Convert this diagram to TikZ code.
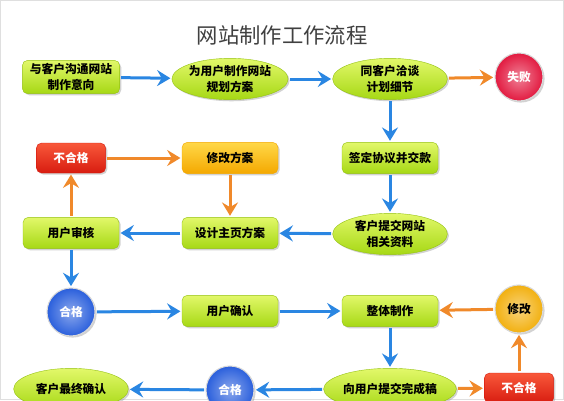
\documentclass[tikz,border=0pt]{standalone}
\usepackage{fontspec}
\setmainfont{Noto Sans CJK SC}
\usetikzlibrary{shapes.geometric,arrows.meta,shadows}
\definecolor{limetop}{HTML}{E2F86A}
\definecolor{limebot}{HTML}{A6D814}
\definecolor{redtop}{HTML}{F8583A}
\definecolor{redbot}{HTML}{D81C10}
\definecolor{ambertop}{HTML}{FFD848}
\definecolor{amberbot}{HTML}{F4A800}
\definecolor{flowblue}{HTML}{2A86E2}
\definecolor{floworange}{HTML}{F0892A}
\definecolor{ballblue}{HTML}{2A5FDC}
\definecolor{ballred}{HTML}{E21A40}
\definecolor{ballamber}{HTML}{F2B010}

\begin{document}
\begin{tikzpicture}[x=0.75pt,y=-0.75pt,
    txt/.style={font=\bfseries\fontsize{8.8pt}{12pt}\selectfont,align=center,inner sep=1pt},
    shade/.style={drop shadow={shadow xshift=1.2pt,shadow yshift=-1.2pt,opacity=0.35}},
    box/.style={txt,shade,rectangle,rounded corners=4pt,minimum width=72pt,minimum height=23.5pt,
        top color=limetop,bottom color=limebot,draw=limebot!90!black,line width=0.3pt},
    oval/.style={txt,shade,ellipse,minimum width=86pt,minimum height=31pt,inner sep=0pt,
        top color=limetop,bottom color=limebot,draw=limebot!90!black,line width=0.3pt},
    redbox/.style={box,top color=redtop,bottom color=redbot,draw=redbot,text=white,minimum width=52pt,minimum height=22.5pt},
    amberbox/.style={box,top color=ambertop,bottom color=amberbot,draw=amberbot},
    ball/.style={txt,shade,circle,minimum size=36pt,inner sep=0pt,draw=white!85!black,line width=0.8pt,
        inner color=#1!55!white,outer color=#1},
    blueflow/.style={draw=flowblue,line width=2.25pt,-{Stealth[length=10pt,width=12pt,inset=3.5pt]},shorten >=1pt,shorten <=1pt},
    orangeflow/.style={blueflow,draw=floworange}]
    \path[use as bounding box,clip] (0,0) rectangle (564,400);
    \fill[white] (0,0) rectangle (564,400);
    \draw[gray!25,line width=1pt] (0.5,0.5) rectangle (563.5,399.5);
    % title
    \node[font=\fontsize{16pt}{18pt}\selectfont,text=black!75](0) at (282,35){网站制作工作流程};
    % row 1
    \node[box,minimum width=73pt,minimum height=25pt](1) at (71,77){与客户沟通网站\\制作意向};
    \node[oval](2) at (230,79){为用户制作网站\\规划方案};
    \node[oval](3) at (390,79){同客户洽谈\\计划细节};
    \node[ball=ballred,text=white](4) at (519,77){失败};
    % row 2
    \node[redbox](5) at (71,158){不合格};
    \node[amberbox](6) at (230,158){修改方案};
    \node[box](7) at (390,158){签定协议并交款};
    % row 3
    \node[box](8) at (71,233){用户审核};
    \node[box](9) at (230,233){设计主页方案};
    \node[oval](10) at (390,234){客户提交网站\\相关资料};
    % row 4
    \node[ball=ballblue,text=white](11) at (71,312){合格};
    \node[box](12) at (230,311){用户确认};
    \node[box](13) at (390,311){整体制作};
    \node[ball=ballamber](14) at (519,309){修改};
    % row 5
    \node[oval](15) at (71,389){客户最终确认};
    \node[ball=ballblue,text=white](16) at (230,390){合格};
    \node[oval](17) at (390,389){向用户提交完成稿};
    \node[redbox](18) at (519,388){不合格};
    % blue connectors
    \draw[blueflow] (1) -- (2);
    \draw[blueflow] (2) -- (3);
    \draw[blueflow] (3) -- (7);
    \draw[blueflow] (7) -- (10);
    \draw[blueflow] (10) -- (9);
    \draw[blueflow] (9) -- (8);
    \draw[blueflow] (8) -- (11);
    \draw[blueflow] (11) -- (12);
    \draw[blueflow] (12) -- (13);
    \draw[blueflow] (13) -- (17);
    \draw[blueflow] (17) -- (16);
    \draw[blueflow] (16) -- (15);
    % orange connectors
    \draw[orangeflow] (3) -- (4);
    \draw[orangeflow] (8) -- (5);
    \draw[orangeflow] (5) -- (6);
    \draw[orangeflow] (6) -- (9);
    \draw[orangeflow] (17) -- (18);
    \draw[orangeflow] (18) -- (14);
    \draw[orangeflow] (14) -- (13);
\end{tikzpicture}
\end{document}
